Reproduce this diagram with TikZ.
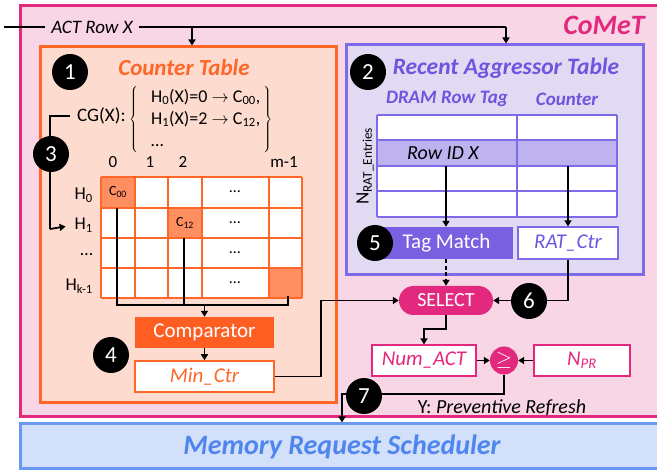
\documentclass[tikz,border=0pt]{standalone}
\usepackage{fontspec}
\setmainfont{Carlito}
\usetikzlibrary{arrows.meta,calc}
\definecolor{mag}{HTML}{E2297D}
\definecolor{pinkfill}{HTML}{F8D6E6}
\definecolor{ctor}{HTML}{FF6628}
\definecolor{ctfill}{HTML}{FDDBCF}
\definecolor{cellor}{HTML}{FF8F60}
\definecolor{compfill}{HTML}{FF5E22}
\definecolor{ratb}{HTML}{7D6BEA}
\definecolor{ratfill}{HTML}{E2DAF3}
\definecolor{rowhl}{HTML}{BEB2EF}
\definecolor{tagfill}{HTML}{7960E0}
\definecolor{purtext}{HTML}{6E55DF}
\definecolor{blb}{HTML}{6A98F2}
\definecolor{blfill}{HTML}{D3E0FA}
\definecolor{bltext}{HTML}{4F85EE}
\newcommand{\fs}[1]{\fontsize{#1}{#1}\selectfont}
\tikzset{
  conn/.style={line width=1.8pt, black},
  arr/.style={conn, -{Triangle[length=6pt,width=7pt]}},
  numc/.style={circle, fill=black, text=white, minimum size=36pt, inner sep=0pt, font=\fs{23}},
  txt/.style={inner sep=0pt},
  gridor/.style={ctor, line width=1.5pt},
  gridpu/.style={ratb, line width=1.5pt},
}
\begin{document}
\begin{tikzpicture}[x=1pt,y=-1pt]
\useasboundingbox (0,0) rectangle (657,473);
% containers
\node[draw=mag, fill=pinkfill, line width=3pt, minimum width=644pt, minimum height=411pt, inner sep=0pt] (comet) at (342,211.5) {};
\node[draw=blb, fill=blfill, line width=3pt, minimum width=644pt, minimum height=45pt, inner sep=0pt] (mrs) at (342,446.5) {};
\node[txt, text=bltext, font=\fs{28}\bfseries\itshape] (mrstxt) at (342,447) {Memory Request Scheduler};
\node[txt, text=mag, font=\fs{28}\bfseries\itshape] (comettxt) at (604,25) {CoMeT};
\node[draw=ctor, fill=ctfill, line width=3pt, minimum width=296pt, minimum height=356pt, inner sep=0pt] (ct) at (188,225) {};
\node[draw=ratb, fill=ratfill, line width=3pt, minimum width=297pt, minimum height=230pt, inner sep=0pt] (rat) at (494.5,160) {};

% ACT Row X
\coordinate (actin) at (4,27);
\coordinate (actsplit) at (192,27);
\coordinate (actturn) at (506,27);
\draw[conn] (actin) -- (actturn);
\draw[arr] (actsplit) -- (actsplit |- ct.north);
\draw[arr] (actturn) -- (actturn |- rat.north);
\node[txt, fill=pinkfill, inner xsep=6pt, inner ysep=3pt, font=\fs{19}\itshape] (act) at (92,27) {ACT Row X};

% Counter table
\node[txt, text=ctor, font=\fs{23}\bfseries\itshape] (cttitle) at (184,68) {Counter Table};
\node[txt, font=\fs{19}, anchor=west] (cgx) at (77,116) {CG(X):};
\node[txt, font=\fontsize{18}{22}\selectfont, anchor=west] (cgset) at (129,120) {$\left\{\begin{tabular}{@{\hspace{13pt}}l@{\hspace{3pt}}}H\textsubscript{0}(X)=0 $\rightarrow$ C\textsubscript{00},\\ H\textsubscript{1}(X)=2 $\rightarrow$ C\textsubscript{12},\\ …\end{tabular}\right\}$};
% grid
\fill[white] (101,177) rectangle (302,298);
\fill[cellor] (101,177) rectangle (135,208);
\fill[cellor] (168,208) rectangle (202,238);
\fill[cellor] (269,268) rectangle (302,298);
\foreach \x in {101,135,168,202,269,302} \draw[gridor] (\x,177) -- (\x,298);
\foreach \y in {177,208,238,268,298} \draw[gridor] (101,\y) -- (302,\y);
\foreach \x/\l in {113/0,150/1,183/2,284/m-1} \node[txt, font=\fs{17}] (col\l) at (\x,162) {\l};
\node[txt, font=\fs{18}, anchor=east] (h0) at (93,195) {H\textsubscript{0}};
\node[txt, font=\fs{18}, anchor=east] (h1) at (93,225) {H\textsubscript{1}};
\node[txt, font=\fs{18}, anchor=east] (hd) at (93,255) {…};
\node[txt, font=\fs{18}, anchor=east] (hk) at (93,286) {H\textsubscript{k-1}};
\node[txt, font=\fs{14}] (c00) at (118,192) {C\textsubscript{00}};
\node[txt, font=\fs{14}] (c12) at (185,223) {C\textsubscript{12}};
\foreach \y in {192,223,253,283} \node[txt, font=\fs{16}] at (235,\y) {…};
% CG -> H1
\coordinate (cgl) at (70,116);
\draw[conn] (cgl) -- (50,116) -- (50,229) edge[arr, shorten >=9pt] (h1.west);
\node[numc] (n3) at (51,154) {3};
\node[numc] (n1) at (70,72) {1};
% comparator
\node[fill=compfill, text=white, minimum width=139pt, minimum height=31pt, inner sep=0pt, font=\fs{21}] (cmp) at (204.5,332.5) {Comparator};
\node[draw=ctor, fill=white, line width=1.5pt, text=ctor, minimum width=139pt, minimum height=31pt, inner sep=0pt, font=\fs{21}\itshape] (minctr) at (204.5,376.5) {Min\_Ctr};
\coordinate (s00) at (117,208);
\coordinate (s12) at (184,238);
\coordinate (slast) at (288,296);
\coordinate (join) at (204.5,305);
\draw[conn] (s00) |- (join) -| (slast);
\draw[conn] (s12) -- (s12 |- join);
\draw[arr] (join) -- (cmp.north);
\draw[arr] (cmp.south) -- (minctr.north);
\node[numc] (n4) at (111,355) {4};

% RAT
\node[numc] (n2) at (368,72) {2};
\node[txt, text=purtext, font=\fs{23.5}\bfseries\itshape] (rattitle) at (506,68) {Recent Aggressor Table};
\node[txt, text=purtext, font=\fs{19}\bfseries\itshape] (tagh) at (447,99) {DRAM Row Tag};
\node[txt, text=purtext, font=\fs{19}\bfseries\itshape] (ctrh) at (567,99) {Counter};
\fill[white] (377,115) rectangle (617,217);
\fill[rowhl] (377,140) rectangle (617,166);
\foreach \x in {377,517,617} \draw[gridpu] (\x,115) -- (\x,217);
\foreach \y in {115,140,166,191,217} \draw[gridpu] (377,\y) -- (617,\y);
\node[txt, font=\fs{20}\itshape] (rowid) at (443,153) {Row ID X};
\node[txt, font=\fs{19}, rotate=90] (nrat) at (365,166) {N\textsubscript{RAT\_Entries}};
\node[fill=tagfill, text=white, minimum width=133pt, minimum height=32pt, inner sep=0pt, font=\fs{21}] (tag) at (446.5,243) {Tag Match};
\node[draw=ratb, fill=white, line width=1.2pt, text=purtext, minimum width=100pt, minimum height=32pt, inner sep=0pt, font=\fs{21}\itshape] (ratctr) at (568,243) {RAT\_Ctr};
\coordinate (rtag) at (446,166);
\coordinate (rctr) at (568,166);
\draw[arr] (rtag) -- (rtag |- tag.north);
\draw[arr] (rctr) -- (ratctr.north);
\node[numc] (n5) at (375,243) {5};

% SELECT
\node[fill=mag, text=white, rounded corners=14.5pt, minimum width=94pt, minimum height=29pt, inner sep=0pt, font=\fs{20}] (sel) at (446,300.5) {SELECT};
\draw[arr, dash pattern=on 4pt off 2.5pt] (rtag |- tag.south) -- (sel.north);
\draw[arr] (ratctr.south) |- (sel.east);
\node[numc] (n6) at (529,301) {6};
\draw[arr] (minctr.east) -- (321,376.5) |- (sel.west);

% comparison
\node[draw=mag, fill=white, line width=1.2pt, text=mag, minimum width=104pt, minimum height=31pt, inner sep=0pt, font=\fs{21}\itshape] (num) at (424,360.5) {Num\_ACT};
\node[circle, fill=mag, text=white, minimum size=28pt, inner sep=0pt, font=\fs{21}] (ge) at (504,360.5) {$\geq$};
\node[draw=mag, fill=white, line width=1.2pt, text=mag, minimum width=96pt, minimum height=31pt, inner sep=0pt, font=\fs{21}\itshape] (npr) at (582,360.5) {N\textsubscript{PR}};
\draw[arr] (sel.south) -- (446,329) -| (num.north);
\draw[arr] (num.east) -- (ge.west);
\draw[arr] (npr.west) -- (ge.east);
\coordinate (down) at (342,394);
\draw[arr] (ge.south) |- (down) -- (down |- mrs.north);
\node[numc] (n7) at (364,396) {7};
\node[txt, font=\fs{20}] (yref) at (502,408) {Y: \textit{Preventive Refresh}};
\end{tikzpicture}
\end{document}
